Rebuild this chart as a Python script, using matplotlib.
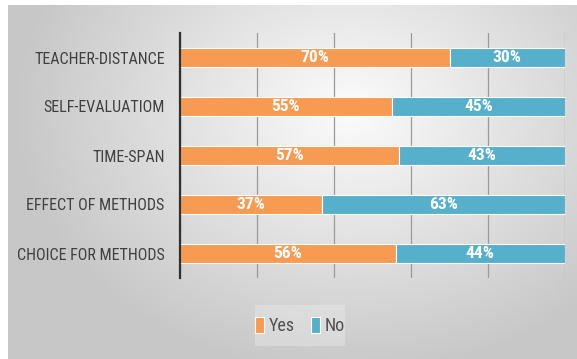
import numpy as np
import matplotlib
matplotlib.use("Agg")
import matplotlib.pyplot as plt
from matplotlib.patches import Rectangle

# Survey answers, share of respondents
categories = ["TEACHER-DISTANCE", "SELF-EVALUATIOM", "TIME-SPAN",
              "EFFECT OF METHODS", "CHOICE FOR METHODS"]
yes_vals = [0.70, 0.55, 0.57, 0.37, 0.56]
no_vals = [0.30, 0.45, 0.43, 0.63, 0.44]
series_names = ["Yes", "No"]

orange = "#F79A52"
blue = "#56AFCB"
font = ["Roboto Condensed", "DejaVu Sans"]

W, H = 577, 359
fig = plt.figure(figsize=(W / 100, H / 100), dpi=100)
fig.patch.set_facecolor("white")

# grey radial background gradient behind the chart
bg = fig.add_axes([8 / W, 0, 1 - 8 / W, 1 - 5 / H])
bg.set_axis_off()
yy, xx = np.mgrid[0:1:200j, 0:1:300j]
d = np.sqrt(((xx - 0.6) / 0.75) ** 2 + ((yy - 0.3) / 0.95) ** 2)
shade = np.clip(0.985 - 0.26 * d, 0.78, 0.985)
bg.imshow(shade, cmap="gray", vmin=0, vmax=1, aspect="auto",
          extent=[0, 1, 1, 0], interpolation="bicubic")
bg.set_xlim(0, 1)
bg.set_ylim(1, 0)

# faint legend panel
bg.add_patch(Rectangle((250 / W, 304 / H), 92 / W, 42 / H,
                       facecolor="#f4f4f4", edgecolor="none", alpha=0.3))

ax = fig.add_axes([180 / W, 1 - 278 / H, 385 / W, 245 / H])
ax.patch.set_alpha(0)

y = np.arange(len(categories))
h = 0.4
b1 = ax.barh(y, yes_vals, height=h, color=orange, edgecolor="white",
             linewidth=0.8, label=series_names[0], zorder=3)
b2 = ax.barh(y, no_vals, left=yes_vals, height=h, color=blue,
             edgecolor="white", linewidth=0.8, label=series_names[1], zorder=3)

for bars in (b1, b2):
    for r in bars:
        cx = r.get_x() + r.get_width() / 2
        cy = r.get_y() + r.get_height() / 2
        ax.text(cx, cy, f"{round(r.get_width() * 100)}%", ha="center",
                va="center", color="white", fontsize=12.5, fontweight="bold",
                family=font, fontstretch="condensed", zorder=4)

ax.set_xlim(0, 1)
ax.set_ylim(len(categories) - 0.5, -0.5)
ax.set_xticks(np.arange(0, 1.01, 0.2))
ax.set_xticklabels([])
ax.tick_params(axis="x", length=0)
ax.tick_params(axis="y", length=0, pad=11)
ax.set_yticks(y)
ax.set_yticklabels(categories, fontsize=11.5, color="#404040", family=font,
                   fontstretch="condensed")
ax.grid(axis="x", color="#9a9a9a", linewidth=0.9, zorder=1)
for s in ("top", "right", "bottom"):
    ax.spines[s].set_visible(False)
ax.spines["left"].set_color("#303030")
ax.spines["left"].set_linewidth(1.6)
ax.spines["left"].set_zorder(5)

fig.legend(handles=[b1, b2], labels=series_names, loc="center",
           bbox_to_anchor=(300 / W, 1 - 326 / H), ncol=2, frameon=False,
           handlelength=0.5, handleheight=1.0, handletextpad=0.25,
           columnspacing=0.9,
           prop={"family": font, "size": 13, "stretch": "condensed"},
           labelcolor="#505050")

fig.savefig("out.png", dpi=100)
